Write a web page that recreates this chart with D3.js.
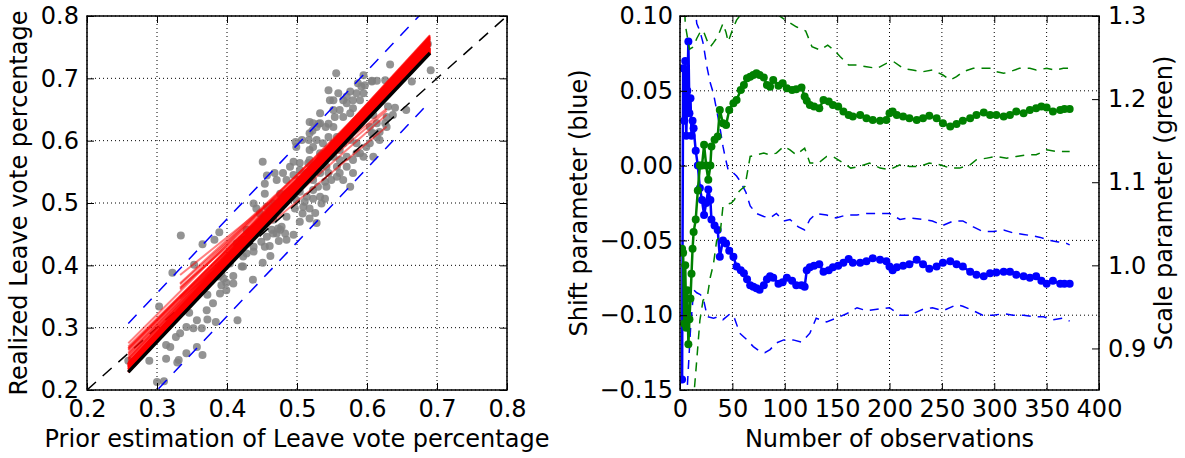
<!DOCTYPE html>
<html>
<head>
  <meta charset="utf-8">
  <title>Leave vote calibration</title>
  <style>
  body { margin: 0; background: #fff; }
  svg text { font-family: "DejaVu Sans", sans-serif; font-size: 24px; fill: #000; }
  .grid line { stroke: #000; stroke-width: 1; stroke-dasharray: 1,3; }
  .frame { fill: none; stroke: #000; stroke-width: 1.5; }
  .tick line { stroke: #000; stroke-width: 1; }
  </style>
</head>
<body>
<svg width="1185" height="458"></svg>
<script src="https://d3js.org/d3.v7.min.js"></script>
<script>

// --- left panel: prior estimate vs realized Leave share, one point per area
var priorVsRealized = [
  [0.300,0.213],[0.310,0.214],[0.289,0.247],[0.313,0.250],[0.331,0.248],[0.329,0.244],
  [0.313,0.272],[0.327,0.285],[0.365,0.256],[0.352,0.299],[0.364,0.299],[0.372,0.313],
  [0.384,0.309],[0.415,0.312],[0.303,0.334],[0.346,0.324],[0.334,0.448],[0.322,0.388],
  [0.353,0.401],[0.365,0.434],[0.382,0.441],[0.389,0.453],[0.259,0.247],[0.372,0.353],
  [0.395,0.379],[0.392,0.368],[0.399,0.372],[0.409,0.383],[0.421,0.398],[0.437,0.377],
  [0.451,0.404],[0.462,0.415],[0.461,0.431],[0.423,0.414],[0.428,0.419],[0.438,0.422],
  [0.449,0.438],[0.457,0.446],[0.474,0.439],[0.483,0.451],[0.466,0.451],[0.473,0.459],
  [0.478,0.462],[0.485,0.478],[0.495,0.449],[0.504,0.470],[0.508,0.483],[0.518,0.475],
  [0.528,0.468],[0.526,0.484],[0.518,0.491],[0.497,0.491],[0.509,0.494],[0.514,0.510],
  [0.523,0.507],[0.533,0.510],[0.540,0.507],[0.504,0.518],[0.523,0.521],[0.530,0.526],
  [0.540,0.534],[0.545,0.548],[0.533,0.548],[0.523,0.537],[0.504,0.537],[0.495,0.545],
  [0.485,0.537],[0.471,0.537],[0.468,0.548],[0.476,0.515],[0.454,0.515],[0.451,0.566],
  [0.454,0.531],[0.480,0.548],[0.498,0.598],[0.507,0.601],[0.504,0.564],[0.516,0.564],
  [0.518,0.569],[0.533,0.580],[0.542,0.574],[0.552,0.574],[0.561,0.569],[0.571,0.558],
  [0.580,0.548],[0.566,0.537],[0.576,0.526],[0.557,0.558],[0.542,0.558],[0.528,0.556],
  [0.518,0.585],[0.523,0.590],[0.537,0.596],[0.545,0.606],[0.552,0.596],[0.557,0.606],
  [0.561,0.585],[0.566,0.596],[0.576,0.601],[0.585,0.596],[0.590,0.580],[0.595,0.574],
  [0.599,0.590],[0.607,0.612],[0.614,0.606],[0.618,0.614],[0.604,0.622],[0.595,0.638],
  [0.609,0.641],[0.614,0.628],[0.628,0.638],[0.626,0.628],[0.630,0.655],[0.640,0.653],
  [0.656,0.649],[0.664,0.695],[0.691,0.713],[0.687,0.755],[0.633,0.722],[0.626,0.697],
  [0.614,0.696],[0.607,0.696],[0.597,0.689],[0.595,0.676],[0.590,0.665],[0.580,0.652],
  [0.571,0.660],[0.566,0.638],[0.554,0.638],[0.552,0.622],[0.545,0.627],[0.533,0.628],
  [0.541,0.622],[0.518,0.630],[0.522,0.616],[0.531,0.627],[0.517,0.601],[0.528,0.601],
  [0.499,0.590],[0.495,0.566],[0.490,0.558],[0.457,0.544],[0.438,0.499],[0.442,0.491],
  [0.447,0.483],[0.466,0.473],[0.476,0.457],[0.485,0.441],[0.447,0.457],[0.435,0.451],
  [0.428,0.457],[0.421,0.441],[0.414,0.435],[0.409,0.419],[0.404,0.403],[0.397,0.398],
  [0.392,0.387],[0.388,0.382],[0.556,0.708],[0.545,0.681],[0.547,0.665],[0.559,0.676],
  [0.571,0.671],[0.580,0.665],[0.587,0.692],[0.592,0.687],[0.595,0.705],[0.607,0.695],
  [0.585,0.676],[0.576,0.679],[0.566,0.665],[0.552,0.665],[0.533,0.644],[0.523,0.628],
  [0.528,0.622],[0.518,0.612],[0.561,0.649],[0.576,0.644],[0.552,0.649],[0.637,0.641],
  [0.628,0.622],[0.618,0.601],[0.609,0.612],[0.499,0.505],[0.511,0.502],[0.535,0.499],
  [0.542,0.526],[0.549,0.537],[0.557,0.542],[0.561,0.548],[0.571,0.574],[0.580,0.569],
  [0.585,0.580],[0.604,0.596],[0.609,0.574],[0.523,0.558],[0.514,0.548],[0.504,0.553],
  [0.485,0.515],[0.480,0.499],[0.466,0.499],[0.457,0.494],[0.464,0.457],[0.471,0.451],
  [0.454,0.430],[0.438,0.430],[0.423,0.398],[0.409,0.371],[0.399,0.360],[0.390,0.355],
  [0.380,0.339],[0.371,0.328],[0.357,0.312],[0.342,0.301],[0.333,0.291],[0.319,0.269],
  [0.357,0.269],[0.342,0.259]
];

var priorTicks = [0.2, 0.3, 0.4, 0.5, 0.6, 0.7, 0.8];

// x range covered by the observations used for each fit
var fitRanges = [
  {fromN: 8,  lo: 0.333, hi: 0.628},
  {fromN: 19, lo: 0.259, hi: 0.690}
];
var bandHalfWidth = 0.078;

// --- right panel: running fit parameters by number of observations
var obsN = [2,3,4,5,6,7,8,9,10,11,12,13,15,17,19,21,23,25,27,29,30,33,36,38,41,44,47,51,54,58,
  61,64,67,70,73,76,80,83,86,89,94,98,102,107,111,116,119,121,124,128,133,137,142,146,151,156,
  161,165,172,178,184,191,197,200,203,207,213,219,226,232,238,245,251,258,264,270,277,283,290,
  296,302,309,315,321,328,334,340,345,350,356,363,367,372];

var shiftVals = [-0.143,0.065,0.030,0.070,0.020,0.050,0.083,0.035,0.045,0.020,0.030,0.025,0.010,
  0.000,-0.015,-0.023,-0.033,-0.025,-0.016,-0.023,-0.036,-0.040,-0.043,-0.061,-0.050,-0.052,
  -0.057,-0.061,-0.0675,-0.070,-0.072,-0.076,-0.080,-0.081,-0.082,-0.083,-0.080,-0.076,-0.074,
  -0.075,-0.079,-0.078,-0.075,-0.077,-0.080,-0.080,-0.081,-0.070,-0.068,-0.067,-0.066,-0.071,
  -0.070,-0.068,-0.067,-0.065,-0.0625,-0.065,-0.065,-0.064,-0.062,-0.063,-0.064,-0.0675,-0.070,
  -0.068,-0.067,-0.066,-0.063,-0.066,-0.069,-0.0675,-0.065,-0.064,-0.066,-0.0675,-0.071,-0.073,
  -0.074,-0.072,-0.0715,-0.071,-0.071,-0.073,-0.074,-0.075,-0.074,-0.077,-0.079,-0.077,-0.079,
  -0.079,-0.079];

var scaleVals = [1.020,1.015,0.930,1.000,0.925,0.970,0.905,0.935,0.960,0.990,1.020,1.040,1.055,
  1.090,1.120,1.120,1.145,1.120,1.103,1.120,1.143,1.151,1.155,1.187,1.171,1.169,1.187,1.195,
  1.199,1.211,1.217,1.225,1.227,1.229,1.231,1.229,1.226,1.217,1.215,1.223,1.216,1.219,1.213,
  1.211,1.212,1.214,1.203,1.198,1.193,1.191,1.189,1.199,1.197,1.193,1.191,1.185,1.181,1.179,
  1.181,1.177,1.175,1.174,1.175,1.183,1.185,1.181,1.179,1.177,1.175,1.177,1.180,1.177,1.171,
  1.167,1.170,1.174,1.177,1.181,1.184,1.181,1.181,1.179,1.181,1.185,1.183,1.187,1.189,1.191,
  1.190,1.185,1.187,1.188,1.188];

var shiftUpper = [[10,0.140],[13,0.115],[16,0.095],[19,0.090],[22,0.082],[26,0.065],[29,0.055],
  [32,0.048],[35,0.037],[38,0.026],[41,0.013],[43,0.006],[46,-0.003],[49,-0.0035],[54,-0.007],
  [58,-0.011],[63,-0.018],[67,-0.027],[73,-0.032],[80,-0.034],[86,-0.035],[92,-0.032],[99,-0.037],
  [105,-0.036],[113,-0.041],[119,-0.043],[124,-0.036],[130,-0.032],[140,-0.033],[149,-0.035],
  [159,-0.033],[169,-0.033],[178,-0.032],[188,-0.032],[200,-0.032],[210,-0.036],[219,-0.035],
  [232,-0.036],[241,-0.037],[251,-0.040],[261,-0.037],[270,-0.037],[280,-0.041],[289,-0.044],
  [299,-0.044],[309,-0.043],[318,-0.045],[328,-0.046],[337,-0.047],[344,-0.048],[353,-0.050],
  [361,-0.051],[369,-0.052],[372,-0.053]];

var shiftLower = [[3,-0.200],[6,-0.160],[10,-0.110],[13,-0.083],[16,-0.085],[19,-0.086],
  [22,-0.088],[26,-0.101],[32,-0.102],[37,-0.101],[41,-0.103],[48,-0.099],[52,-0.102],[57,-0.112],
  [64,-0.1165],[70,-0.121],[76,-0.124],[81,-0.125],[86,-0.123],[92,-0.1185],[99,-0.1165],
  [108,-0.1165],[116,-0.118],[124,-0.112],[130,-0.102],[140,-0.1045],[149,-0.102],[159,-0.099],
  [169,-0.095],[178,-0.097],[188,-0.096],[200,-0.095],[210,-0.100],[219,-0.100],[232,-0.096],
  [241,-0.095],[251,-0.097],[264,-0.093],[270,-0.094],[280,-0.097],[289,-0.100],[299,-0.100],
  [309,-0.099],[318,-0.100],[328,-0.100],[337,-0.101],[347,-0.101],[356,-0.103],[366,-0.102],
  [372,-0.104]];

var scaleUpper = [[2,1.400],[5,1.290],[9,1.260],[13,1.263],[16,1.273],[19,1.280],[22,1.283],
  [26,1.270],[29,1.263],[32,1.268],[36,1.275],[41,1.291],[44,1.280],[46,1.269],[50,1.283],
  [54,1.295],[57,1.300],[60,1.310],[70,1.320],[85,1.320],[95,1.300],[101,1.295],[111,1.287],
  [120,1.282],[126,1.263],[134,1.259],[141,1.265],[147,1.259],[153,1.251],[161,1.241],[169,1.241],
  [178,1.239],[188,1.237],[197,1.243],[204,1.245],[213,1.237],[222,1.235],[232,1.233],[241,1.235],
  [251,1.229],[258,1.223],[264,1.227],[270,1.233],[280,1.237],[289,1.237],[296,1.237],[302,1.233],
  [309,1.231],[315,1.233],[324,1.237],[334,1.237],[340,1.235],[350,1.237],[358,1.235],[366,1.237],
  [372,1.237]];

var scaleLower = [[2,0.700],[8,0.780],[13,0.840],[16,0.886],[19,0.934],[22,0.958],[26,0.962],
  [29,0.986],[32,1.002],[35,1.030],[38,1.034],[41,1.071],[44,1.073],[49,1.075],[52,1.079],
  [55,1.087],[58,1.091],[62,1.095],[67,1.131],[73,1.133],[80,1.135],[86,1.133],[92,1.135],
  [99,1.143],[105,1.139],[111,1.133],[119,1.141],[124,1.123],[132,1.123],[140,1.131],[146,1.131],
  [156,1.123],[163,1.117],[171,1.119],[181,1.123],[191,1.117],[200,1.115],[210,1.121],[219,1.119],
  [229,1.119],[238,1.123],[248,1.121],[258,1.117],[267,1.117],[277,1.121],[283,1.127],[293,1.129],
  [302,1.131],[312,1.129],[321,1.131],[331,1.133],[340,1.133],[350,1.139],[359,1.137],[369,1.137],
  [372,1.137]];

var obsTicks = [0, 50, 100, 150, 200, 250, 300, 350, 400];
var shiftTicks = [-0.15, -0.10, -0.05, 0.00, 0.05, 0.10];
var scaleTicks = [0.9, 1.0, 1.1, 1.2, 1.3];

// --------------------------------------------------------------------------

var svg = d3.select("svg");

var L = {x0: 87, x1: 507, y0: 16, y1: 390};
var R = {x0: 680, x1: 1099, y0: 16, y1: 390};

var xPrior = d3.scaleLinear().domain([0.2, 0.8]).range([L.x0, L.x1]);
var yReal = d3.scaleLinear().domain([0.2, 0.8]).range([L.y1, L.y0]);
var xObs = d3.scaleLinear().domain([0, 400]).range([R.x0, R.x1]);
var yShift = d3.scaleLinear().domain([-0.15, 0.10]).range([R.y1, R.y0]);
var yScale = d3.scaleLinear().domain([0.85, 1.3]).range([R.y1, R.y0]);

var defs = svg.append("defs");
[["clipL", L], ["clipR", R]].forEach(function(c) {
  defs.append("clipPath").attr("id", c[0]).append("rect")
      .attr("x", c[1].x0).attr("y", c[1].y0)
      .attr("width", c[1].x1 - c[1].x0).attr("height", c[1].y1 - c[1].y0);
});

function drawGrid(box, xs, ys, xt, yt) {
  var g = svg.append("g").attr("class", "grid");
  g.selectAll(".gx").data(xt).enter().append("line")
      .attr("x1", xs).attr("x2", xs).attr("y1", box.y0).attr("y2", box.y1);
  g.selectAll(".gy").data(yt).enter().append("line")
      .attr("y1", ys).attr("y2", ys).attr("x1", box.x0).attr("x2", box.x1);
}

drawGrid(L, xPrior, yReal, priorTicks, priorTicks);
drawGrid(R, xObs, yShift, obsTicks, shiftTicks);

// ---- left panel marks
var lp = svg.append("g").attr("clip-path", "url(#clipL)");

lp.append("g").selectAll("circle")
    .data(priorVsRealized)
    .enter().append("circle")
      .attr("cx", function(d) { return xPrior(d[0]); })
      .attr("cy", function(d) { return yReal(d[1]); })
      .attr("r", 4)
      .attr("fill", "#808080")
      .attr("fill-opacity", 0.85);

lp.append("line")
    .attr("x1", xPrior(0.2)).attr("y1", yReal(0.2))
    .attr("x2", xPrior(0.8)).attr("y2", yReal(0.8))
    .attr("stroke", "#000").attr("stroke-width", 1.5)
    .attr("stroke-dasharray", "12,9");

function rangeFor(n) {
  var r = null;
  fitRanges.forEach(function(f) { if (n >= f.fromN) r = f; });
  return r;
}

var fits = obsN.map(function(n, i) {
  return {n: n, a: shiftVals[i], b: scaleVals[i], r: rangeFor(n)};
}).filter(function(f) { return f.r; });

lp.append("g").selectAll("line")
    .data(fits)
    .enter().append("line")
      .attr("x1", function(d) { return xPrior(d.r.lo); })
      .attr("y1", function(d) { return yReal(d.a + d.b * d.r.lo); })
      .attr("x2", function(d) { return xPrior(d.r.hi); })
      .attr("y2", function(d) { return yReal(d.a + d.b * d.r.hi); })
      .attr("stroke", "#ff0000")
      .attr("stroke-opacity", 0.5)
      .attr("stroke-width", 2);

var last = fits[fits.length - 1];
var lo = last.r.lo, hi = last.r.hi;

lp.append("line")
    .attr("x1", xPrior(lo)).attr("y1", yReal(last.a + last.b * lo))
    .attr("x2", xPrior(hi)).attr("y2", yReal(last.a + last.b * hi))
    .attr("stroke", "#000").attr("stroke-width", 3.5);

[bandHalfWidth, -bandHalfWidth].forEach(function(off) {
  lp.append("line")
      .attr("x1", xPrior(lo)).attr("y1", yReal(last.a + off + last.b * lo))
      .attr("x2", xPrior(hi)).attr("y2", yReal(last.a + off + last.b * hi))
      .attr("stroke", "#0000ff").attr("stroke-width", 1.5)
      .attr("stroke-dasharray", "12,10");
});

// ---- right panel marks
var rp = svg.append("g").attr("clip-path", "url(#clipR)");

function series(ys, data, color, withDots) {
  var line = d3.line()
      .x(function(d) { return xObs(d[0]); })
      .y(function(d) { return ys(d[1]); });
  var g = rp.append("g");
  if (withDots) {
    g.append("path").datum(data)
        .attr("d", line).attr("fill", "none")
        .attr("stroke", color).attr("stroke-width", 2.5);
    g.selectAll("circle").data(data).enter().append("circle")
        .attr("cx", function(d) { return xObs(d[0]); })
        .attr("cy", function(d) { return ys(d[1]); })
        .attr("r", 4)
        .attr("fill", color);
  } else {
    g.append("path").datum(data)
        .attr("d", line).attr("fill", "none")
        .attr("stroke", color).attr("stroke-width", 1.5)
        .attr("stroke-dasharray", "9,7");
  }
}

var shiftSeries = obsN.map(function(n, i) { return [n, shiftVals[i]]; });
var scaleSeries = obsN.map(function(n, i) { return [n, scaleVals[i]]; });

series(yShift, shiftSeries, "#0000ff", true);
series(yShift, shiftUpper, "#0000ff", false);
series(yShift, shiftLower, "#0000ff", false);
series(yScale, scaleSeries, "#008000", true);
series(yScale, scaleUpper, "#008000", false);
series(yScale, scaleLower, "#008000", false);

// ---- axes (ticks inside, like the matplotlib classic style)
function noDomain(g) { g.select(".domain").remove(); }

svg.append("g").attr("transform", "translate(0," + L.y1 + ")")
    .call(d3.axisBottom(xPrior).tickValues(priorTicks).tickSize(-7).tickPadding(10)
      .tickFormat(d3.format(".1f"))).call(noDomain);
svg.append("g").attr("transform", "translate(0," + L.y0 + ")")
    .call(d3.axisTop(xPrior).tickValues(priorTicks).tickSize(-7).tickFormat("")).call(noDomain);
svg.append("g").attr("transform", "translate(" + L.x0 + ",0)")
    .call(d3.axisLeft(yReal).tickValues(priorTicks).tickSize(-7).tickPadding(8)
      .tickFormat(d3.format(".1f"))).call(noDomain);
svg.append("g").attr("transform", "translate(" + L.x1 + ",0)")
    .call(d3.axisRight(yReal).tickValues(priorTicks).tickSize(-7).tickFormat("")).call(noDomain);

svg.append("g").attr("transform", "translate(0," + R.y1 + ")")
    .call(d3.axisBottom(xObs).tickValues(obsTicks).tickSize(-7).tickPadding(10)
      .tickFormat(d3.format("d"))).call(noDomain);
svg.append("g").attr("transform", "translate(0," + R.y0 + ")")
    .call(d3.axisTop(xObs).tickValues(obsTicks).tickSize(-7).tickFormat("")).call(noDomain);
svg.append("g").attr("transform", "translate(" + R.x0 + ",0)")
    .call(d3.axisLeft(yShift).tickValues(shiftTicks).tickSize(-7).tickPadding(7)
      .tickFormat(d3.format(".2f"))).call(noDomain);
svg.append("g").attr("transform", "translate(" + R.x1 + ",0)")
    .call(d3.axisRight(yScale).tickValues(scaleTicks).tickSize(-7).tickPadding(9)
      .tickFormat(d3.format(".1f"))).call(noDomain);

[L, R].forEach(function(b) {
  svg.append("rect").attr("class", "frame")
      .attr("x", b.x0).attr("y", b.y0)
      .attr("width", b.x1 - b.x0).attr("height", b.y1 - b.y0);
});

// ---- axis titles
svg.append("text")
    .attr("x", (L.x0 + L.x1) / 2).attr("y", 447)
    .attr("text-anchor", "middle")
    .text("Prior estimation of Leave vote percentage");
svg.append("text")
    .attr("transform", "translate(27," + (L.y0 + L.y1) / 2 + ") rotate(-90)")
    .attr("text-anchor", "middle")
    .text("Realized Leave vote percentage");
svg.append("text")
    .attr("x", (R.x0 + R.x1) / 2).attr("y", 447)
    .attr("text-anchor", "middle")
    .text("Number of observations");
svg.append("text")
    .attr("transform", "translate(587," + (R.y0 + R.y1) / 2 + ") rotate(-90)")
    .attr("text-anchor", "middle")
    .text("Shift parameter (blue)");
svg.append("text")
    .attr("transform", "translate(1172," + (R.y0 + R.y1) / 2 + ") rotate(-90)")
    .attr("text-anchor", "middle")
    .text("Scale parameter (green)");

</script>
</body>
</html>
